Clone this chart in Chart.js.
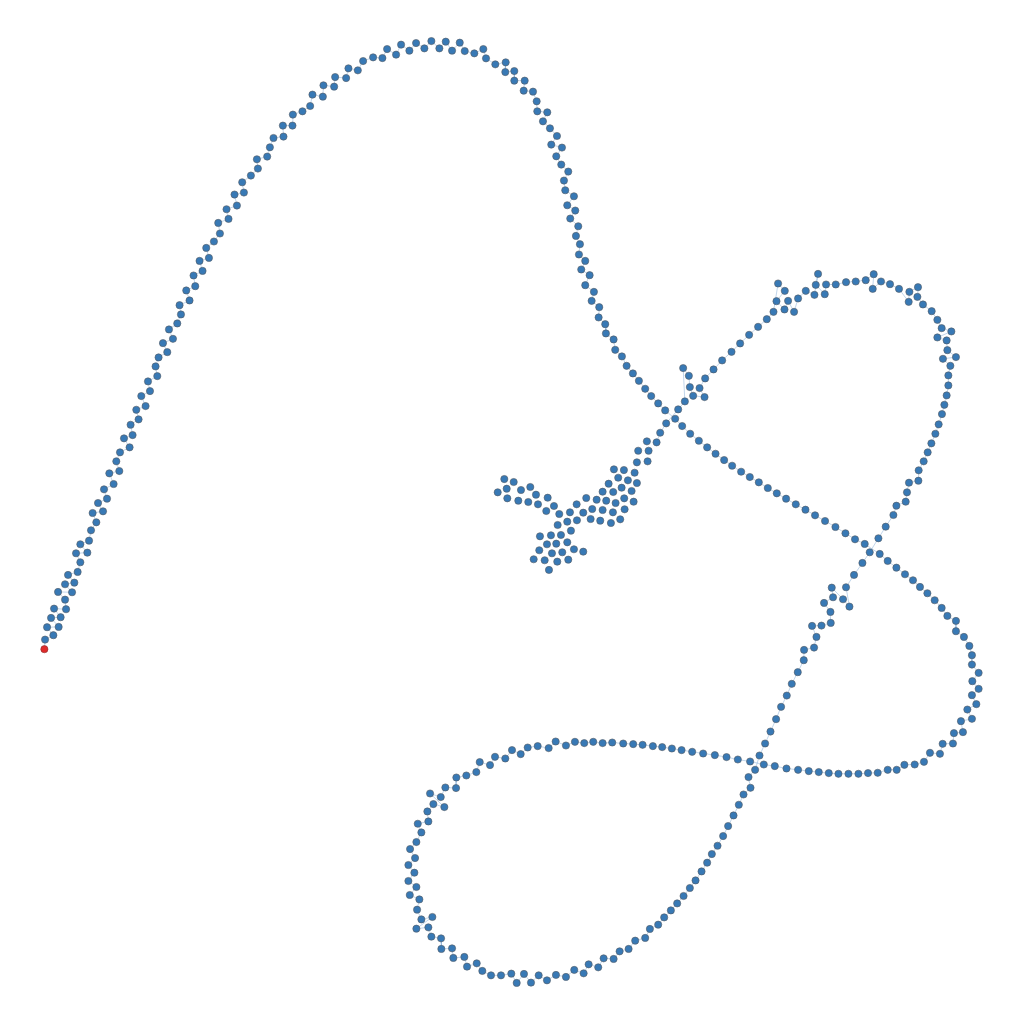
<!DOCTYPE html>
<html>
<head>
<meta charset="utf-8">
<script src="https://cdn.jsdelivr.net/npm/chart.js@4"></script>
<style>
html,body{margin:0;padding:0;background:#fff;}
#wrap{width:1024px;height:1024px;}
</style>
</head>
<body>
<div id="wrap"><canvas id="c" width="1024" height="1024"></canvas></div>
<script>
// Coordinates are in the plot's own units (0..1024 on both axes, y downward)
const startPoint = [[44, 649.3]];

const ascentArc = [[44.7,639.7],[53,635.3],[46.7,627.3],[58.3,627],[50.7,618],[60.3,617.3],[53.7,608.7],[65.7,609.3],[64.7,599.7],[57.7,592],[71.7,592.3],[64.7,584.3],[74,582.7],[67.7,575],[77.3,572],[80,562.3],[75.7,553.3],[87,552.7],[80,544.3],[88.7,540.7],[90.7,530.3],[96,522.3],[92.3,513],[102.7,511.3],[97.7,503],[106.7,498.7],[103.7,489.3],[113.3,484],[109,473.3],[119,471],[116,461.3],[119.7,452.3],[129.3,447.3],[123.7,438.3],[132.3,435],[130.3,424.7],[138.3,419.3],[136,409.7],[145.3,406],[141,396],[149.7,391],[147.7,381.3],[157,376],[155.3,366.3],[158.3,357.3],[167,352],[162.7,343],[172.7,338.7],[168.7,329.3],[177,323.3],[180.7,314.3],[179.3,305],[189.3,300.3],[186,290.3],[195,286],[193.3,275.3],[202.3,270.7],[199.3,260.7],[208.7,257.7],[206,247.7],[213.7,241.3],[219.7,233.3],[218,222.7],[228.3,218.7],[226.3,209],[236.7,205.3],[234.3,194.3],[243.7,192.3],[242,182],[250.7,175.3],[257.7,168.3],[256.7,159],[267,156.3],[269.7,147],[273.3,137.7],[283.3,136.3],[282.7,125.3],[292.3,125.3],[292.7,114.3],[302.3,111],[310,105.7],[312.3,94.3],[322.7,96.3],[323.3,85],[334,86.3],[335,76.7],[346,77.7],[348.3,68],[357.7,70],[363,60.7],[373,57],[382.3,57.7],[387,48.7],[396,54.3],[401,44.3],[409.3,50.3],[416,42.7],[424.3,48],[431.3,40.7],[439.3,48]];

const summitDescent = [[445.7,41.3],[452,50.3],[459.7,42.3],[464.7,50.7],[474.3,53],[483.3,48.7],[486,58],[495.3,64],[505.7,62],[505.3,71.7],[514.3,70.7],[514.3,80.3],[524.7,80.3],[523.7,90.3],[533,91.3],[536.7,101],[537.3,111],[547.3,112],[543,121],[550,128],[557,135.7],[551.3,144.3],[562,147.3],[556.3,156],[561.3,164.3],[568.3,171.3],[564,180.3],[565.3,190],[574,196],[567.3,205],[575.3,210.3],[570.3,218.3],[578.3,226],[576,235.7],[580,244],[579,254.3],[585.3,260.7],[581.3,269.3],[589.7,275],[585.3,285],[594,291.7],[591.7,300.7],[599.3,307],[598.7,317.3],[605.3,324],[606,333.3],[613.7,339.3],[615.3,349.7],[622,356.3],[626.7,365.7],[633,373.3],[639,380.7],[645.3,388.7],[651.3,396],[658.3,403.3],[665.3,410.3],[675.3,418.7]];

const rightLowerLoop = [[682.3,426],[690.3,433.7],[699,440.7],[707.3,447.3],[715.7,453.7],[724.3,460],[732.3,465.7],[741.3,471.7],[750,477],[759,482.3],[768,488],[777,493.3],[786.3,498.7],[796,504.3],[805.7,509.7],[815.3,515.3],[825.3,521],[835.7,527],[845.7,533.3],[855.3,539.3],[865,544],[880,554],[888,561],[896.7,567.7],[905.3,574.3],[913.3,580.3],[920.3,587],[927.7,593.3],[935,600.3],[942,608],[947.7,616],[956.3,621],[956.3,631.3],[964.3,637],[969.7,646],[972.3,655.3],[972.3,664.7],[979,673],[972.7,681.3],[979,689],[972.3,695.3],[976.7,704.3],[967.7,709.7],[972.3,719],[961.3,721.3],[963.3,732.3],[954.3,733.3],[953.3,743.7],[943,744],[940.3,754],[930.3,753],[924.3,762],[915,764.7],[904.7,765],[897,770],[888,770],[878,773],[868.3,773.3],[858.7,774],[848.7,774],[838.7,774],[829,773.3],[819,772.3],[809,771.3],[798.3,770],[786.7,768.7],[775,766.3],[764,764.7],[750.3,761.7],[738,759.7],[726.7,757.3],[715,755.3],[703.3,753.7],[692.3,752],[681.7,750.3],[672,748.7],[662.3,747.3],[653,746.3],[642.7,745]];

const lowerLeftLoop = [[633.3,744.3],[623.3,743.7],[612.3,742.7],[602.7,743.3],[593.3,742],[584.3,743.3],[575,742],[566,745.7],[555.7,741.7],[548.7,748.3],[537.7,746.3],[527.7,747.7],[520.7,754.3],[512,750.3],[505.3,758.7],[495,757],[490,765.3],[479.7,762.3],[476.3,772.3],[466.3,775.7],[456.3,777.7],[456,788.3],[445.3,787.7],[440.7,797.3],[430,793.7],[444.3,807.3],[433.3,804.3],[427.3,811.7],[428.3,821.7],[417.7,824],[421.3,832.7],[416.3,842.3],[410,849.3],[415,858.3],[408.3,865.3],[414.3,873],[408.3,881.3],[416.3,887.3],[409.7,895.3],[419.3,899.7],[417,910],[421.3,919.7],[432.3,917.3],[416.3,929],[428.3,927.7],[431.3,937],[441,938.7],[441.3,949.3],[452,948.7],[453.3,958.3],[464.3,957.3],[467,967],[476.7,963.7],[482.3,971.3],[491,975.7],[501,975.7],[511.3,974],[516.7,983.3],[524,974.3],[531,983],[538.7,975.7],[547,980.7],[556,975.3],[566,977.3],[574.3,970.3],[583.7,973.7],[588.7,964.7],[598.3,967.7],[603.7,958.7],[613.7,959.3],[619.7,951.7],[628.7,949.3],[635.3,941],[645.3,938.3],[650,929.3],[658.3,925],[664.3,917.7],[671,910.7],[677.3,903.7],[683.7,896.3],[690,888.3],[695.7,880.7],[701.7,871.7],[707.3,863],[712,854.3],[717.7,846],[723.3,836.3],[728.3,826.3],[733.7,815.7],[739,805],[743.7,794.7],[750.7,788],[748.7,777.3],[755.3,770]];

const upperRightLoop = [[759.7,755.7],[765.3,743.7],[770.7,731.7],[776.3,719.3],[781.3,707],[787,695.7],[792,684],[798,672.3],[804,660.3],[804.3,650],[814.3,647.7],[816.7,637],[812.3,626],[821.7,625.7],[831,623],[830.7,612],[824.3,603],[833.3,597.3],[832,587.7],[843.3,599.3],[849.7,606.7],[846.3,587.3],[854.3,575],[862.7,563],[870,552.3],[878.7,538.3],[886,526.7],[893.7,515],[896.7,505.7],[906,501.7],[907.3,492.3],[909.3,482.7],[918.7,480.7],[919,470.3],[924,461.3],[928,452.3],[931.7,443.3],[935.7,433.7],[939,424.3],[942.3,414],[944.7,404.7],[947,395.3],[948.7,385.3],[948.7,375.3],[950.7,365.7],[943.3,358.7],[956.3,357],[947.7,350],[947,340.3],[937.7,337.3],[951.7,331.3],[942,328],[937.7,319.7],[932,311],[923.3,304.3],[917.7,296.7],[918.3,287],[909.7,291.7],[909,301.7],[899.3,288.7],[890.3,284],[881.3,281.3],[873,288.7],[874,274],[866,280],[856,281.3],[846.3,282],[836,284.3],[826.3,284.3],[825,294],[816,284.7],[818.3,273.7],[814.7,294.7],[806,290.7],[798.3,298.3],[794.3,311.7],[788.3,300.7],[784.7,309.3],[776.7,301],[785,290.7],[778.3,283.3],[773.7,311.7],[767,319],[758.3,326.7],[749.3,334.7],[740.3,343.3],[731.7,351.7],[722.3,360.3],[713.7,369.3],[705.3,378.3],[699.7,388],[704.7,397],[693.3,395.7],[690,387],[689,375.7],[683.3,368],[685,401.3],[678.3,409.3]];

const tangledEnd = [[666.3,423.3],[660.3,432.7],[656.7,442.3],[647,441.3],[648.7,450.7],[638.3,450.7],[647.7,461.3],[637,462.3],[634.7,472.7],[637,483],[624,470],[614,469.3],[618.3,477.7],[628,480.3],[608.7,483.7],[621.7,487.7],[631.7,491],[613.3,492],[624.3,498.3],[633.7,501.7],[615.7,503],[602.7,491.7],[606.3,500.7],[596.7,499.7],[586.3,498],[602.7,510],[592.3,509],[583.3,512.7],[576.7,504.3],[624.7,509.3],[613,512.3],[620.3,519.3],[611,523],[600.3,520.7],[590.7,519],[577,520.3],[570,512.3],[567.3,521.7],[559.3,514],[554,506],[547.7,497.7],[546.3,511],[538,504.3],[536,494.7],[530.3,487],[528.3,502],[518.3,500.7],[521,490],[513.7,482],[507.3,498.3],[506.7,488.7],[504.3,479],[497.7,492.3],[557.7,525],[571,530.7],[561,535],[551,535.3],[540,536.3],[567.3,542.3],[556.3,543.7],[547,544.3],[574,549.3],[583.3,551.7],[562.3,552.3],[552,553.3],[539.3,550.3],[568.3,559.7],[557.3,561.7],[544.7,560.3],[533.7,559.3],[549,570]];

const toXY = arr => arr.map(p => ({x: p[0], y: p[1]}));
const trail = [].concat(startPoint, ascentArc, summitDescent, rightLowerLoop, lowerLeftLoop, upperRightLoop, tangledEnd.slice(0, 3));
const allSteps = [].concat(ascentArc, summitDescent, rightLowerLoop, lowerLeftLoop, upperRightLoop, tangledEnd);

// Chart.js insets the chart area by the largest point overflow (radius + border);
// shift the scale limits by the same amount so 1 unit = 1 pixel from the canvas edge.
const DOT_R = 3.6, DOT_BW = 0.6;
const INSET = DOT_R + DOT_BW;

new Chart(document.getElementById('c'), {
  type: 'scatter',
  data: {
    datasets: [
      {
        data: toXY(startPoint),
        pointRadius: DOT_R,
        pointBackgroundColor: '#df2a2a',
        pointBorderColor: '#8a3030',
        pointBorderWidth: DOT_BW,
        order: 0
      },
      {
        data: toXY(allSteps),
        pointRadius: DOT_R,
        pointBackgroundColor: '#3879b5',
        pointBorderColor: '#555b62',
        pointBorderWidth: DOT_BW,
        order: 1
      },
      {
        data: toXY(trail),
        showLine: true,
        pointRadius: 0,
        borderColor: 'rgba(120,165,210,0.45)',
        borderWidth: 1,
        order: 2
      }
    ]
  },
  options: {
    responsive: false,
    animation: false,
    events: [],
    layout: {padding: 0},
    plugins: {legend: {display: false}, tooltip: {enabled: false}},
    scales: {
      x: {type: 'linear', min: INSET, max: 1024 - INSET, display: false},
      y: {type: 'linear', min: INSET, max: 1024 - INSET, reverse: true, display: false}
    }
  }
});
</script>
</body>
</html>
